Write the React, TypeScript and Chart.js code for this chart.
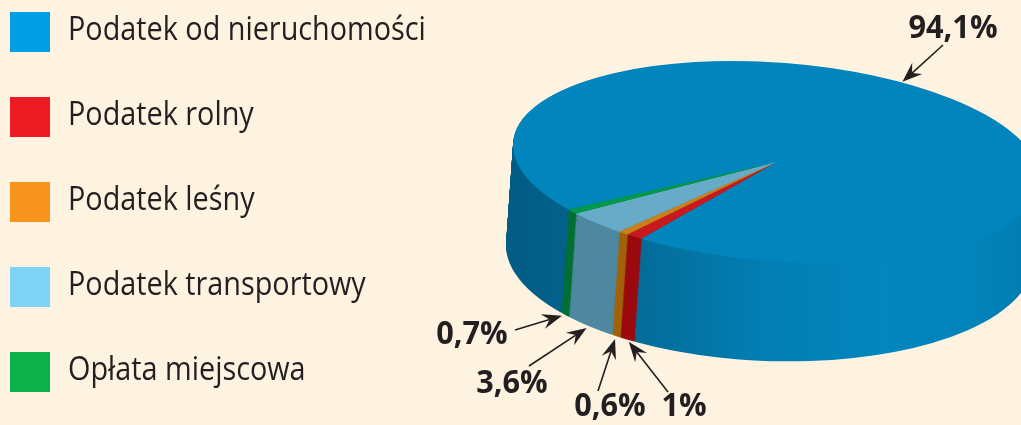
import React, { useEffect, useRef } from 'react';
import { Chart, registerables } from 'chart.js';

Chart.register(...registerables);

// ---- data ----
const categories = [
  'Podatek od nieruchomości',
  'Podatek rolny',
  'Podatek leśny',
  'Podatek transportowy',
  'Opłata miejscowa',
];
const shares = [94.1, 1, 0.6, 3.6, 0.7];
const shareLabels = ['94,1%', '1%', '0,6%', '3,6%', '0,7%'];

// ---- styles ----
const BG = '#fef3e0';
const INK = '#231f20';
const legendColors = ['#009fe3', '#ed1c24', '#f7941d', '#7fd3f7', '#0db04b'];
const topColors = ['#0284bd', '#c8191f', '#c98117', '#67abc9', '#01994a'];
const sideColors = ['blue', '#9b0a0e', '#a1620b', '#4f88a1', '#027033'];

// projected geometry of the tilted pie: top face and bottom face ellipses
// screen = c + [[a,0],[k,h]] * (cos t, sin t)
const TOP = { cx: 776.5, cy: 162, a: 263.5, k: 17, h: 99.6 };
const BOT = { cx: 769.5, cy: 253, a: 263.5, k: 8, h: 108 };
const LAYERS = 130;
// annotation layout: text centre, arrow tail, position of the tip along the slice
const textPos = [[953, 29], [684, 407], [610, 407], [512, 384], [472, 335]];
const tailPos = [[943, 45], [668, 392], [598, 391], [529, 366], [515, 330]];
const tipFrac = [0.461, 0.5, 0.5, 0.5, 0.5];

type Geo = { cx: number; cy: number; a: number; k: number; h: number };
const lerpGeo = (f: number): Geo => ({
  cx: TOP.cx + (BOT.cx - TOP.cx) * f,
  cy: TOP.cy + (BOT.cy - TOP.cy) * f,
  a: TOP.a + (BOT.a - TOP.a) * f,
  k: TOP.k + (BOT.k - TOP.k) * f,
  h: TOP.h + (BOT.h - TOP.h) * f,
});
const project = (g: Geo, t: number) => [
  g.cx + g.a * Math.cos(t),
  g.cy + g.k * Math.cos(t) + g.h * Math.sin(t),
];

const pie3d = {
  id: 'pie3d',
  beforeDatasetsDraw(chart: any) {
    const ctx: CanvasRenderingContext2D = chart.ctx;
    const arcs = chart.getDatasetMeta(0).data;
    if (!arcs.length) return false;
    const a0 = arcs[0];
    const cx0 = a0.x, cy0 = a0.y, R = a0.outerRadius;

    const apply = (g: Geo) => {
      const sa = g.a / R, sk = g.k / R, sh = g.h / R;
      ctx.transform(sa, sk, 0, sh, g.cx - sa * cx0, g.cy - sk * cx0 - sh * cy0);
    };
    const sideGrad = (g: Geo) => {
      const lx = (X: number) => cx0 + (X - g.cx) / (g.a / R);
      const grad = ctx.createLinearGradient(lx(506), 0, lx(1047), 0);
      grad.addColorStop(0, '#025c85');
      grad.addColorStop((570 - 506) / 541, '#03618b');
      grad.addColorStop((650 - 506) / 541, '#036e9b');
      grad.addColorStop((760 - 506) / 541, '#027eb3');
      grad.addColorStop((880 - 506) / 541, '#0286bd');
      grad.addColorStop((980 - 506) / 541, '#0283ba');
      grad.addColorStop(1, '#0279ac');
      return grad;
    };
    const proxies = arcs.map((arc: any, i: number) => {
      const p = Object.create(arc);
      p.options = Object.assign({}, arc.options, {
        backgroundColor: sideColors[i],
        borderWidth: 0,
      });
      return p;
    });
    for (let s = LAYERS; s >= 1; s -= 1) {
      const g = lerpGeo(s / LAYERS);
      proxies[0].options.backgroundColor = sideGrad(g);
      ctx.save();
      apply(g);
      proxies.forEach((p: any) => p.draw(ctx));
      ctx.restore();
    }
    ctx.save();
    apply(TOP);
    arcs.forEach((arc: any) => arc.draw(ctx));
    ctx.restore();
    return false;
  },
};

function drawArrow(ctx: CanvasRenderingContext2D, x0: number, y0: number, x1: number, y1: number) {
  const ang = Math.atan2(y1 - y0, x1 - x0);
  const L = 20, W = 7.5, notch = 13;
  ctx.save();
  ctx.strokeStyle = INK;
  ctx.fillStyle = INK;
  ctx.lineWidth = 1.6;
  ctx.beginPath();
  ctx.moveTo(x0, y0);
  ctx.lineTo(x1 - Math.cos(ang) * notch, y1 - Math.sin(ang) * notch);
  ctx.stroke();
  ctx.translate(x1, y1);
  ctx.rotate(ang);
  ctx.beginPath();
  ctx.moveTo(0, 0);
  ctx.lineTo(-L, -W);
  ctx.lineTo(-notch, 0);
  ctx.lineTo(-L, W);
  ctx.closePath();
  ctx.fill();
  ctx.restore();
}

const annotations = {
  id: 'annotations',
  afterDraw(chart: any) {
    const ctx: CanvasRenderingContext2D = chart.ctx;
    const arcs = chart.getDatasetMeta(0).data;
    arcs.forEach((arc: any, i: number) => {
      const t = arc.startAngle + tipFrac[i] * (arc.endAngle - arc.startAngle);
      const [ex, ey] = project(i === 0 ? TOP : BOT, t);
      const [tx, ty] = tailPos[i];
      const dl = Math.hypot(ex - tx, ey - ty);
      const back = i === 0 ? 1 : 3;
      const hx = ex - ((ex - tx) / dl) * back;
      const hy = ey - ((ey - ty) / dl) * back;
      drawArrow(ctx, tx, ty, hx, hy);
      ctx.save();
      ctx.font = 'bold 32px "Open Sans"';
      ctx.fillStyle = INK;
      ctx.textAlign = 'center';
      ctx.textBaseline = 'middle';
      ctx.translate(textPos[i][0], textPos[i][1]);
      ctx.scale(0.96, 1);
      ctx.fillText(shareLabels[i], 0, 0);
      ctx.restore();
    });

    // legend
    categories.forEach((c, i) => {
      const y = 12 + i * 85;
      ctx.save();
      ctx.fillStyle = legendColors[i];
      ctx.fillRect(10, y, 40, 40);
      ctx.font = '32px "Open Sans"';
      ctx.textAlign = 'left';
      ctx.textBaseline = 'alphabetic';
      ctx.fillStyle = INK;
      ctx.translate(68, y + 28);
      ctx.scale(0.9, 1);
      ctx.fillText(c, 0, 0);
      ctx.restore();
    });
  },
};

export default function App() {
  const ref = useRef<HTMLCanvasElement>(null);
  useEffect(() => {
    document.body.style.margin = '0';
    document.body.style.background = BG;
    const chart = new Chart(ref.current as HTMLCanvasElement, {
      type: 'pie',
      data: {
        labels: categories,
        datasets: [
          {
            data: shares,
            backgroundColor: topColors,
            borderWidth: 0,
            clip: false,
          } as any,
        ],
      },
      options: {
        responsive: false,
        animation: false,
        rotation: 232.2,
        events: [],
        plugins: {
          legend: { display: false },
          tooltip: { enabled: false },
        },
      },
      plugins: [pie3d, annotations],
    });
    return () => chart.destroy();
  }, []);
  return (
    <div style={{ position: 'absolute', left: 0, top: 0, width: 1021, height: 425, background: BG }}>
      <canvas ref={ref} width={1021} height={425} style={{ display: 'block' }} />
    </div>
  );
}
